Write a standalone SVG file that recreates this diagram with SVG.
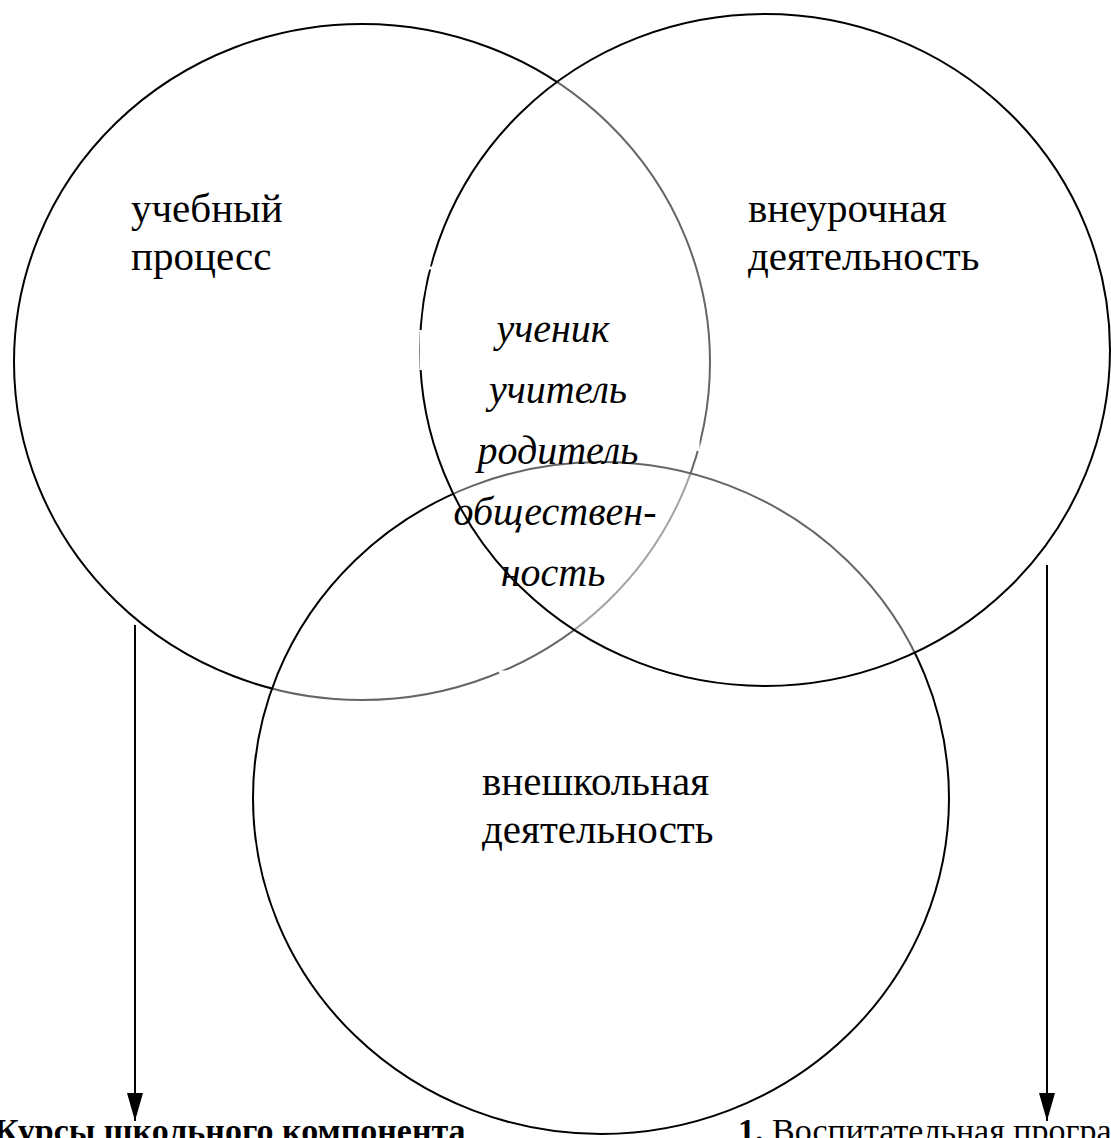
<svg xmlns="http://www.w3.org/2000/svg" width="1111" height="1138" viewBox="0 0 1111 1138">
<style>
.c{fill:#fff;fill-opacity:0.4;stroke:#000;stroke-width:2}
.t{font-family:"Liberation Serif","Times New Roman",serif;font-size:41px;fill:#000}
.i{font-family:"Liberation Serif","Times New Roman",serif;font-style:italic;font-size:40px;fill:#000;text-anchor:middle}
.b{font-family:"Liberation Serif","Times New Roman",serif;font-size:34px;fill:#000}
.ln{stroke:#000;stroke-width:2;fill:none}
</style>
<defs>
<marker id="ah" markerWidth="28" markerHeight="16" refX="28" refY="8" orient="auto" markerUnits="userSpaceOnUse" viewBox="0 0 28 16">
<path d="M0,0 L28,8 L0,16 Z" fill="#000"/>
</marker>
</defs>
<rect width="1111" height="1138" fill="#fff"/>
<g id="left-circle"><ellipse class="c" cx="362" cy="362" rx="348" ry="338"/></g>
<g id="bottom-circle"><ellipse class="c" cx="601" cy="798" rx="348" ry="336"/></g>
<g id="right-circle"><ellipse class="c" cx="765" cy="350" rx="345" ry="336"/></g>
<g id="center-box"><rect x="421" y="268" width="277" height="404" fill="none" stroke="#fff" stroke-width="3" stroke-dasharray="40 60 30 80"/></g>
<g id="connectors">
<line class="ln" x1="135" y1="625" x2="135" y2="1121" marker-end="url(#ah)"/>
<line class="ln" x1="1047" y1="565" x2="1047" y2="1121" marker-end="url(#ah)"/>
</g>
<g id="label-left"><text class="t" x="131" y="222">учебный</text><text class="t" x="131" y="270">процесс</text></g>
<g id="label-right"><text class="t" x="748" y="222">внеурочная</text><text class="t" x="748" y="270">деятельность</text></g>
<g id="label-bottom"><text class="t" x="482" y="795">внешкольная</text><text class="t" x="482" y="843">деятельность</text></g>
<g id="label-center">
<text class="i" x="553" y="342">ученик</text>
<text class="i" x="558" y="403">учитель</text>
<text class="i" x="558" y="464">родитель</text>
<text class="i" x="555" y="525">обществен-</text>
<text class="i" x="553" y="586">ность</text>
</g>
<g id="bottom-left-text"><text class="b" x="-6" y="1142" font-weight="bold">Курсы школьного компонента</text></g>
<g id="bottom-right-text"><text class="b" x="738" y="1142"><tspan font-weight="bold">1.</tspan> Воспитательная  программа</text></g>
</svg>
